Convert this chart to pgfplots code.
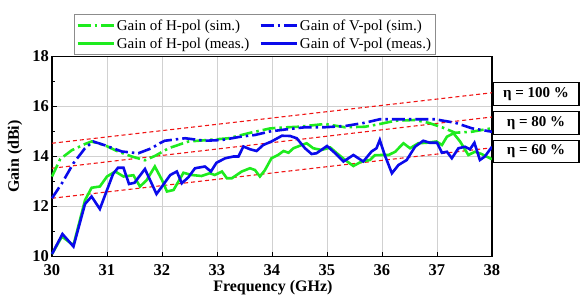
\documentclass[border=0pt]{standalone}
\usepackage{fontspec}
\setmainfont{Liberation Serif}[BoldFont={Liberation Serif Bold}]
\usepackage{pgfplots}
\pgfplotsset{compat=1.18}
\definecolor{cgreen}{RGB}{30,235,30}
\definecolor{cblue}{RGB}{10,10,235}
\definecolor{cred}{RGB}{240,20,20}
\begin{document}
\begin{tikzpicture}
\begin{axis}[
  at={(0pt,0pt)}, anchor=south west,
  scale only axis, width=440pt, height=200pt,
  xmin=30, xmax=38, ymin=10, ymax=18,
  xtick={30,31,...,38}, ytick={10,12,...,18},
  minor ytick={11,13,15,17},
  tick pos=left, tick align=inside,
  major tick length=5pt, minor tick length=3pt,
  grid=major, major grid style={draw=black!18, line width=0.8pt},
  axis line style={line width=1.2pt},
  every tick/.style={black, line width=0.9pt},
  /pgf/number format/assume math mode=true,
  ticklabel style={font=\fontsize{16.5}{16.5}\selectfont\bfseries, inner sep=1pt},
  xticklabel style={yshift=-7pt},
  yticklabel style={xshift=-2pt},
  xlabel={Frequency (GHz)}, ylabel={Gain (dBi)},
  label style={font=\fontsize{16}{16}\selectfont\bfseries},
  xlabel style={at={(axis description cs:0.502,-0.1575)}, anchor=center, inner sep=0pt},
  ylabel style={at={(axis description cs:-0.084,0.5)}, anchor=center},
  clip=false,
  legend columns=2,
  legend style={at={(axis description cs:0.05,1)}, anchor=south west, yshift=1.5pt,
    draw=black!45, line width=0.6pt, font=\fontsize{15}{18}\selectfont,
    inner xsep=2pt, inner ysep=3pt, row sep=2pt,
    /tikz/every even column/.append style={column sep=8pt}},
  legend cell align=left,
  legend image code/.code={\draw[#1] (0pt,0pt) -- (36pt,0pt);},
]
% efficiency lines
\addplot[cred, line width=1.1pt, dash pattern=on 4pt off 3pt, forget plot] coordinates {(30,14.53) (38,16.55)};
\addplot[cred, line width=1.1pt, dash pattern=on 4pt off 3pt, forget plot] coordinates {(30,13.53) (38,15.58)};
\addplot[cred, line width=1.1pt, dash pattern=on 4pt off 3pt, forget plot] coordinates {(30,12.33) (38,14.35)};
% H-pol sim
\addplot[cgreen, line width=2.6pt, dash pattern=on 13pt off 4pt on 2.5pt off 4pt] coordinates {
(30.0,13.2) (30.15,13.9) (30.36,14.25) (30.6,14.5) (30.72,14.6) (30.96,14.45) (31.2,14.2) (31.45,14.0) (31.69,13.85) (31.87,14.02) (32.12,14.33) (32.48,14.6) (32.84,14.66) (33.21,14.73) (33.57,14.93) (33.96,15.12) (34.11,15.15) (34.48,15.19) (34.96,15.3) (35.33,15.17) (35.69,15.19) (35.96,15.3) (36.24,15.43) (36.6,15.46) (36.84,15.35) (37.09,15.17) (37.33,14.95) (37.63,14.99) (38.0,15.13)};
\addlegendentry{Gain of H-pol (sim.)}
% V-pol sim
\addplot[cblue, line width=2.6pt, dash pattern=on 13pt off 4pt on 2.5pt off 4pt] coordinates {
(30.0,12.33) (30.18,12.93) (30.39,13.73) (30.6,14.33) (30.75,14.6) (30.96,14.45) (31.27,14.2) (31.57,14.13) (31.81,14.33) (31.96,14.53) (32.05,14.63) (32.42,14.73) (32.78,14.63) (33.09,14.66) (33.45,14.8) (33.69,14.86) (33.96,15.0) (34.24,15.08) (34.6,15.17) (34.96,15.17) (35.33,15.22) (35.69,15.35) (35.96,15.49) (36.6,15.49) (36.96,15.49) (37.33,15.35) (37.63,15.13) (38.0,14.99)};
\addlegendentry{Gain of V-pol (sim.)}
% H-pol meas
\addplot[cgreen, line width=2.6pt] coordinates {
(30.0,10.1) (30.18,10.8) (30.39,10.45) (30.6,12.25) (30.72,12.75) (30.87,12.8) (31.0,13.2) (31.15,13.4) (31.3,13.2) (31.48,13.25) (31.6,12.8) (31.72,13.05) (31.87,13.6) (32.0,13.06) (32.09,12.6) (32.21,12.66) (32.39,13.35) (32.54,13.26) (32.72,13.22) (32.87,13.33) (32.96,13.26) (33.09,13.4) (33.18,13.13) (33.27,13.13) (33.45,13.4) (33.6,13.53) (33.69,13.46) (33.78,13.2) (33.87,13.45) (33.99,13.93) (34.11,14.06) (34.21,14.22) (34.3,14.15) (34.39,14.33) (34.54,14.46) (34.63,14.53) (34.75,14.33) (34.9,14.26) (35.06,14.36) (35.18,14.13) (35.33,13.86) (35.48,13.62) (35.63,13.8) (35.78,13.86) (35.87,14.05) (35.99,14.06) (36.12,14.06) (36.24,14.19) (36.39,14.53) (36.51,14.33) (36.66,14.53) (36.81,14.55) (36.99,14.6) (37.09,14.46) (37.18,14.79) (37.3,14.93) (37.42,14.6) (37.57,14.06) (37.69,14.19) (37.81,14.1) (38.0,13.89)};
\addlegendentry{Gain of H-pol (meas.)}
% V-pol meas
\addplot[cblue, line width=2.6pt] coordinates {
(30.0,10.1) (30.19,10.9) (30.39,10.4) (30.6,12.1) (30.72,12.4) (30.87,11.9) (31.11,13.3) (31.2,13.55) (31.3,13.55) (31.4,12.9) (31.5,12.95) (31.69,13.5) (31.9,12.5) (32.0,12.8) (32.15,13.26) (32.27,13.4) (32.36,12.93) (32.48,13.17) (32.6,13.53) (32.78,13.6) (32.89,13.4) (32.99,13.75) (33.15,13.93) (33.3,14.0) (33.39,14.0) (33.48,14.4) (33.6,14.29) (33.72,14.22) (33.84,14.46) (33.99,14.6) (34.18,14.83) (34.33,14.82) (34.45,14.73) (34.6,14.33) (34.72,14.1) (34.81,14.13) (35.0,14.42) (35.15,14.13) (35.3,13.8) (35.48,14.06) (35.66,13.8) (35.81,14.2) (35.9,14.33) (35.96,14.66) (36.05,14.06) (36.18,13.33) (36.3,13.66) (36.45,13.86) (36.6,14.39) (36.75,14.63) (36.87,14.55) (37.0,14.55) (37.09,14.15) (37.18,14.19) (37.27,13.93) (37.39,14.33) (37.51,14.39) (37.6,14.29) (37.68,14.55) (37.78,13.86) (37.87,14.0) (38.0,14.39)};
\addlegendentry{Gain of V-pol (meas.)}
% efficiency labels
\tikzset{effbox/.style={draw=black, line width=1.3pt, minimum width=86pt, minimum height=22.5pt, inner sep=0pt, font=\fontsize{15}{15}\selectfont\bfseries, anchor=center}}
\node[effbox] at (axis description cs:1.1,0.8125) {η = 100 \%};
\node[effbox] at (axis description cs:1.1,0.6675) {η = 80 \%};
\node[effbox] at (axis description cs:1.1,0.5255) {η = 60 \%};
\end{axis}
\pgfresetboundingbox
\useasboundingbox (-52pt,-38.5pt) rectangle (531pt,256.5pt);
\end{tikzpicture}
\end{document}
